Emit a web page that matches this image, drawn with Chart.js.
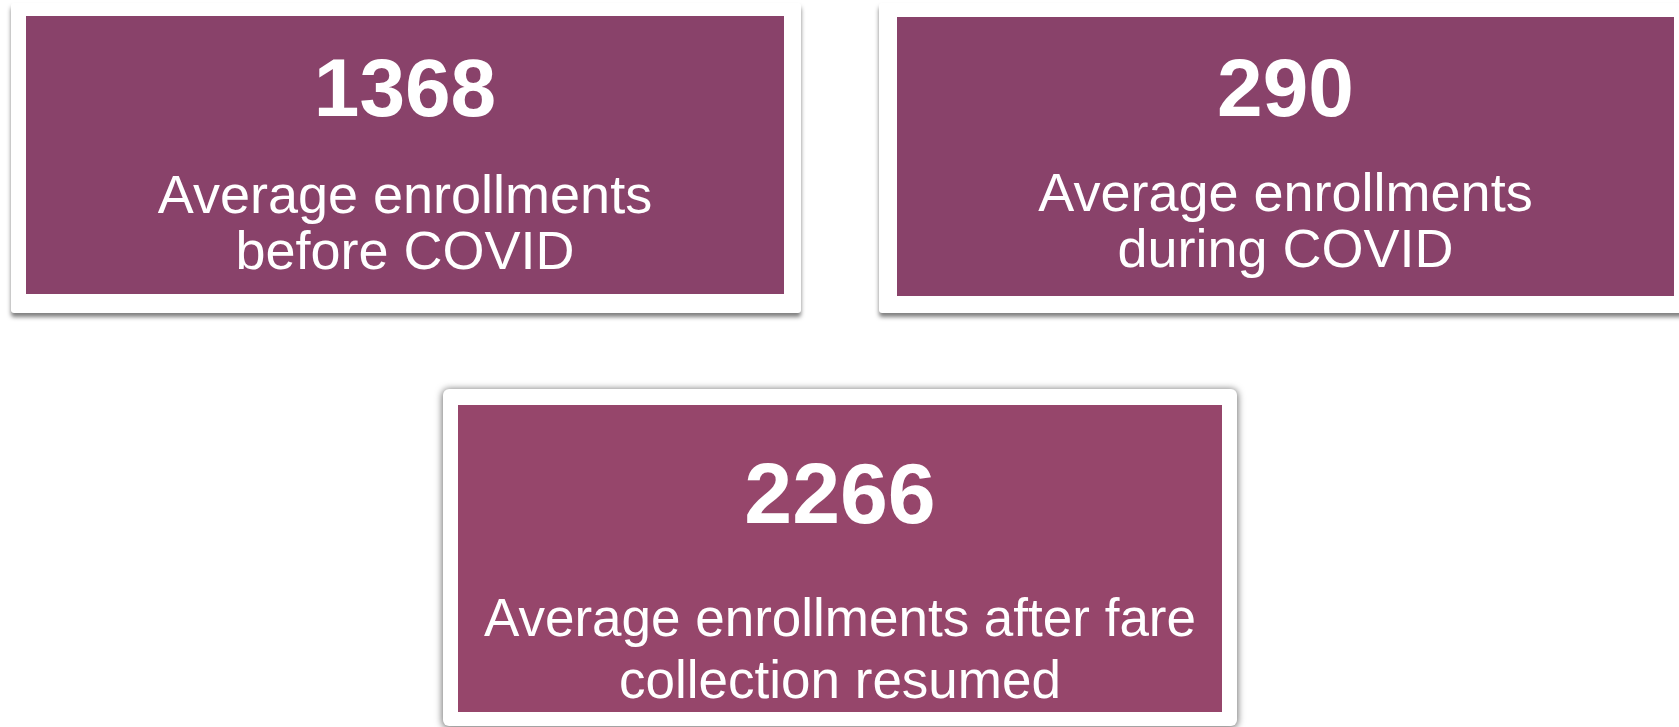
<!DOCTYPE html>
<html>
<head>
<meta charset="utf-8">
<title>Enrollments</title>
<script src="https://cdn.jsdelivr.net/npm/chart.js@4.4.0/dist/chart.umd.min.js"></script>
<style>
  html, body { margin: 0; padding: 0; background: #fff; width: 1679px; height: 727px; overflow: hidden; position: relative; }
  .frame { position: absolute; background: #fff; box-sizing: border-box; }
  .card { position: absolute; }
  .card canvas { display: block; }
</style>
</head>
<body>
<script>
// card values and their captions
var cardValues = [1368, 290, 2266];
var cardCaptions = [
  ["Average enrollments", "before COVID"],
  ["Average enrollments", "during COVID"],
  ["Average enrollments after fare", "collection resumed"]
];

// layout of the three cards (white frame + purple panel)
var layout = [
  { frame: [11, 3, 790, 310], panel: [26, 16, 758, 278], radius: 3, shadow: "0 4px 4px rgba(0,0,0,0.5)",
    color: "#89426a", numSize: 82, numPad: 36, capSize: 54, capLine: 1.02, capPad: 37 },
  { frame: [879, 3, 810, 310], panel: [897, 17, 777, 279], radius: 3, shadow: "0 4px 4px rgba(0,0,0,0.5)",
    color: "#89426a", numSize: 82, numPad: 35, capSize: 54, capLine: 1.02, capPad: 35 },
  { frame: [443, 389, 794, 337], panel: [458, 405, 764, 307], radius: 6, shadow: "0 1px 7px 1px rgba(0,0,0,0.55)",
    color: "#96466b", numSize: 86, numPad: 51, capSize: 53, capLine: 1.17, capPad: 48 }
];

var fontFamily = "'Liberation Sans', Arial, Helvetica, sans-serif";

// fills the chart area with the card colour
var panelFill = {
  id: "panelFill",
  beforeDraw: function(chart, args, opts) {
    var ctx = chart.ctx;
    ctx.save();
    ctx.fillStyle = opts.color;
    ctx.fillRect(0, 0, chart.width, chart.height);
    ctx.restore();
  }
};

for (var i = 0; i < cardValues.length; i++) {
  var L = layout[i];

  var frame = document.createElement("div");
  frame.className = "frame";
  frame.style.left = L.frame[0] + "px";
  frame.style.top = L.frame[1] + "px";
  frame.style.width = L.frame[2] + "px";
  frame.style.height = L.frame[3] + "px";
  frame.style.borderRadius = L.radius + "px";
  frame.style.boxShadow = L.shadow;
  document.body.appendChild(frame);

  var card = document.createElement("div");
  card.className = "card";
  card.style.left = L.panel[0] + "px";
  card.style.top = L.panel[1] + "px";
  card.style.width = L.panel[2] + "px";
  card.style.height = L.panel[3] + "px";
  var canvas = document.createElement("canvas");
  card.appendChild(canvas);
  document.body.appendChild(card);

  new Chart(canvas, {
    type: "bar",
    data: { labels: [], datasets: [] },
    plugins: [panelFill],
    options: {
      responsive: true,
      maintainAspectRatio: false,
      animation: false,
      events: [],
      layout: { padding: 0 },
      scales: { x: { display: false }, y: { display: false } },
      plugins: {
        legend: { display: false },
        tooltip: { enabled: false },
        panelFill: { color: L.color },
        title: {
          display: true,
          text: String(cardValues[i]),
          color: "#ffffff",
          font: { family: fontFamily, size: L.numSize, weight: "bold", lineHeight: 1 },
          padding: { top: L.numPad, bottom: 0 }
        },
        subtitle: {
          display: true,
          text: cardCaptions[i],
          color: "#ffffff",
          font: { family: fontFamily, size: L.capSize, weight: "normal", lineHeight: L.capLine },
          padding: { top: L.capPad, bottom: 0 }
        }
      }
    }
  });
}
</script>
</body>
</html>
